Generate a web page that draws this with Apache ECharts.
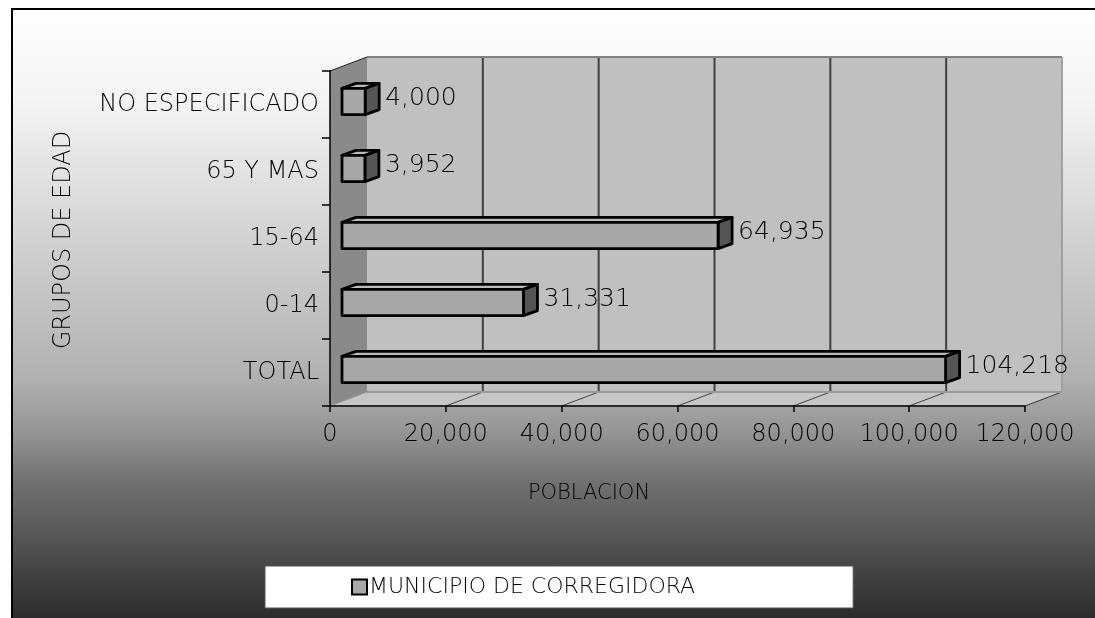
<!DOCTYPE html>
<html>
<head>
<meta charset="utf-8">
<script src="https://cdn.jsdelivr.net/npm/echarts@6/dist/echarts.min.js"></script>
<style>html,body{margin:0;padding:0;background:#fff;overflow:hidden}#c{width:1095px;height:618px}</style>
</head>
<body>
<div id="c"></div>
<script>
// ---- data ----
const categories = ['TOTAL', '0-14', '15-64', '65 Y MAS', 'NO ESPECIFICADO'];
const seriesName = 'MUNICIPIO DE CORREGIDORA';
const values = [104218, 31331, 64935, 3952, 4000];
const xTicks = [0, 20000, 40000, 60000, 80000, 100000, 120000];
const xTitle = 'POBLACION';
const yTitle = 'GRUPOS DE EDAD';

const FONT = "'DejaVu Sans', sans-serif";
const FW = 200;
const fmt = v => String(v).replace(/\B(?=(\d{3})+(?!\d))/g, ',');

// 3D geometry (pixels)
const DX = 37, DY = -14;           // wall depth
const BF = [12, -3], BD = [14, -5]; // bar front offset, bar depth

const chart = echarts.init(document.getElementById('c'), null, {renderer: 'canvas'});

function renderWalls(params, api) {
  const cs = params.coordSys;
  const x = cs.x, y = cs.y, w = cs.width, h = cs.height;
  const ch = [];
  ch.push({type: 'rect', shape: {x: x + DX, y: y + DY, width: w, height: h},
    style: {fill: '#c0c0c0', stroke: null}});
  ch.push({type: 'polygon', shape: {points: [[x, y], [x + DX, y + DY], [x + DX, y + h + DY], [x, y + h]]},
    style: {fill: '#8a8a8a', stroke: null}});
  ch.push({type: 'polygon', shape: {points: [[x, y + h], [x + DX, y + h + DY], [x + w + DX, y + h + DY], [x + w, y + h]]},
    style: {fill: '#c6c6c6', stroke: '#9a9a9a', lineWidth: 1}});
  xTicks.forEach((t, i) => {
    const px = api.coord([t, 0])[0];
    if (i > 0 && i < xTicks.length - 1) {
      ch.push({type: 'line', shape: {x1: px + DX, y1: y + DY, x2: px + DX, y2: y + h + DY},
        style: {stroke: '#404040', lineWidth: 2}});
    }
    if (i > 0) {
      ch.push({type: 'line', shape: {x1: px, y1: y + h, x2: px + DX, y2: y + h + DY},
        style: {stroke: '#404040', lineWidth: 1}});
    }
  });
  ch.push({type: 'line', shape: {x1: x + DX, y1: y + DY, x2: x + w + DX, y2: y + DY},
    style: {stroke: '#808080', lineWidth: 2}});
  ch.push({type: 'line', shape: {x1: x + w + DX, y1: y + DY, x2: x + w + DX, y2: y + h + DY},
    style: {stroke: '#a0a0a0', lineWidth: 2}});
  ch.push({type: 'line', shape: {x1: x + DX, y1: y + h + DY, x2: x + w + DX, y2: y + h + DY},
    style: {stroke: '#9a9a9a', lineWidth: 2}});
  ch.push({type: 'line', shape: {x1: x, y1: y, x2: x + DX, y2: y + DY},
    style: {stroke: '#202020', lineWidth: 1}});
  return {type: 'group', children: ch};
}

function renderBar(params, api) {
  const v = api.value(0), ci = api.value(1);
  const s = api.coord([0, ci]);
  const e = api.coord([v, ci]);
  const bandH = api.size([0, 1])[1];
  const hh = bandH * 0.39;
  const x0 = s[0] + BF[0], x1 = e[0] + BF[0];
  const yc = s[1] + BF[1];
  const top = yc - hh / 2, bot = yc + hh / 2;
  const [dx, dy] = BD;
  const st = {stroke: '#000', lineWidth: 2.8, lineJoin: 'round'};
  return {type: 'group', children: [
    {type: 'polygon', shape: {points: [[x0, top], [x0 + dx, top + dy], [x1 + dx, top + dy], [x1, top]]},
      style: Object.assign({fill: '#bdbdbd'}, st)},
    {type: 'polygon', shape: {points: [[x1, top], [x1 + dx, top + dy], [x1 + dx, bot + dy], [x1, bot]]},
      style: Object.assign({fill: '#555555'}, st)},
    {type: 'rect', shape: {x: x0, y: top, width: x1 - x0, height: bot - top},
      style: Object.assign({fill: '#a8a8a8'}, st)},
    {type: 'text', x: x1 + dx + 6, y: yc - 3,
      style: {text: fmt(v), fill: '#000', fontFamily: FONT, fontSize: 25, fontWeight: FW,
        textAlign: 'left', textVerticalAlign: 'middle'}}
  ]};
}

const option = {
  animation: false,
  backgroundColor: '#ffffff',
  graphic: [
    {type: 'rect', z: -10, shape: {x: 12, y: 9, width: 1200, height: 700},
      style: {
        stroke: '#000', lineWidth: 2,
        fill: {type: 'linear', global: true, x: 0, y: 9, x2: 0, y2: 629, colorStops: [
          {offset: 0, color: '#fefefe'},
          {offset: 0.147, color: '#f4f4f4'},
          {offset: 0.598, color: '#b0b0b0'},
          {offset: 0.679, color: '#969696'},
          {offset: 0.76, color: '#727272'},
          {offset: 0.982, color: '#2c2c2c'},
          {offset: 1, color: '#282828'}
        ]}
      }},
    {type: 'text', x: 589, y: 494, z: 10,
      style: {text: xTitle, fontFamily: FONT, fontSize: 21, fontWeight: FW, fill: '#000', textAlign: 'center', textVerticalAlign: 'middle'}},
    {type: 'text', x: 64, y: 240, rotation: Math.PI / 2, z: 10,
      style: {text: yTitle, fontFamily: FONT, fontSize: 24, fontWeight: FW, fill: '#000', textAlign: 'center', textVerticalAlign: 'middle'}}
  ],
  legend: {
    left: 265, top: 566,
    padding: [10, 158, 10, 86],
    backgroundColor: '#ffffff',
    borderColor: '#555', borderWidth: 1,
    itemWidth: 15, itemHeight: 15, itemGap: 4,
    textStyle: {fontFamily: FONT, fontSize: 22, fontWeight: FW, color: '#000', padding: [0, 0, 0, -3]},
    data: [{name: seriesName, icon: 'rect',
      itemStyle: {color: '#a8a8a8', borderColor: '#000', borderWidth: 2}}]
  },
  grid: {left: 330, top: 71, width: 695, height: 335, containLabel: false, outerBoundsMode: 'none'},
  xAxis: {
    type: 'value', min: 0, max: 120000, interval: 20000,
    axisLine: {show: true, lineStyle: {color: '#000', width: 1.5}},
    axisTick: {show: true, length: 6, lineStyle: {color: '#000', width: 1.5}},
    splitLine: {show: false},
    axisLabel: {margin: 17, fontFamily: FONT, fontSize: 24, fontWeight: FW, color: '#000', formatter: v => fmt(v)},
    z: 5
  },
  yAxis: {
    type: 'category', data: categories,
    axisLine: {show: true, lineStyle: {color: '#000', width: 1.5}},
    axisTick: {show: true, length: 8, lineStyle: {color: '#000', width: 1.5}},
    axisLabel: {margin: 11, fontFamily: FONT, fontSize: 24, fontWeight: FW, color: '#000'},
    splitLine: {show: false},
    z: 5
  },
  series: [
    {type: 'custom', name: '_walls', silent: true, z: 1, renderItem: renderWalls, data: [[0, 0]], clip: false},
    {type: 'custom', name: seriesName, z: 3, renderItem: renderBar,
      itemStyle: {color: '#a8a8a8'},
      encode: {x: 0, y: 1},
      data: values.map((v, i) => [v, i]), clip: false}
  ]
};
chart.setOption(option);
</script>
</body>
</html>
